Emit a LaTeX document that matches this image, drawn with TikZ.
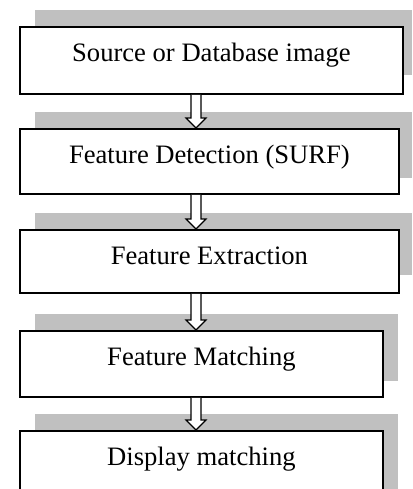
\documentclass[tikz,border=0pt]{standalone}
\usepackage{fontspec}
\setmainfont{Liberation Serif}
\usepackage{xcolor}
\usetikzlibrary{calc, positioning}
\definecolor{shadegray}{HTML}{C0C0C0}
\tikzset{
    stage/.style={draw, line width=1.8pt, fill=white, inner xsep=0pt, inner ysep=0pt,
        text height=35pt, anchor=north west, font=\fontsize{26.6}{30}\selectfont},
    flowarrow/.style={draw, line width=1.2pt, fill=white}
}
\newcommand{\blockarrow}[2]{
    \draw[flowarrow] let \p1=(#1.south -| ax), \p2=(#2.north -| ax) in
    (\x1-5pt,\y1) -- (\x1-5pt,\y2+10pt) -- (\x1-10pt,\y2+10pt) -- (\x2,\y2)
    -- (\x1+10pt,\y2+10pt) -- (\x1+5pt,\y2+10pt) -- (\x1+5pt,\y1);
}

\begin{document}
\begin{tikzpicture}[x=1pt, y=-1pt]
                        \useasboundingbox (0, 0) rectangle (412, 489);
                        \clip (0, 0) rectangle (412, 489);

                        \fill[shadegray] (35, 10) rectangle (412, 75);
                        \fill[shadegray] (35, 112) rectangle (412, 178);
                        \fill[shadegray] (35, 213) rectangle (412, 275);
                        \fill[shadegray] (35, 314) rectangle (398, 381);
                        \fill[shadegray] (35, 414) rectangle (398, 489);

                        \node[stage, minimum width=383pt, text depth=32pt] (source) at (19, 26) {Source or Database image};
                        \node[stage, minimum width=379pt, text depth=30pt] (detect) at (19, 128) {Feature Detection (SURF)};
                        \node[stage, minimum width=379pt, text depth=28pt] (extract) at (19, 229) {Feature Extraction};
                        \node[stage, minimum width=363pt, text depth=31pt] (match) at (19, 330) {Feature Matching};
                        \node[stage, minimum width=363pt, text depth=31pt] (display) at (19, 430) {Display matching};

                        \coordinate (ax) at (196, 0);
                        \blockarrow{source}{detect}
                        \blockarrow{detect}{extract}
                        \blockarrow{extract}{match}
                        \blockarrow{match}{display}
                    \end{tikzpicture}
\end{document}
